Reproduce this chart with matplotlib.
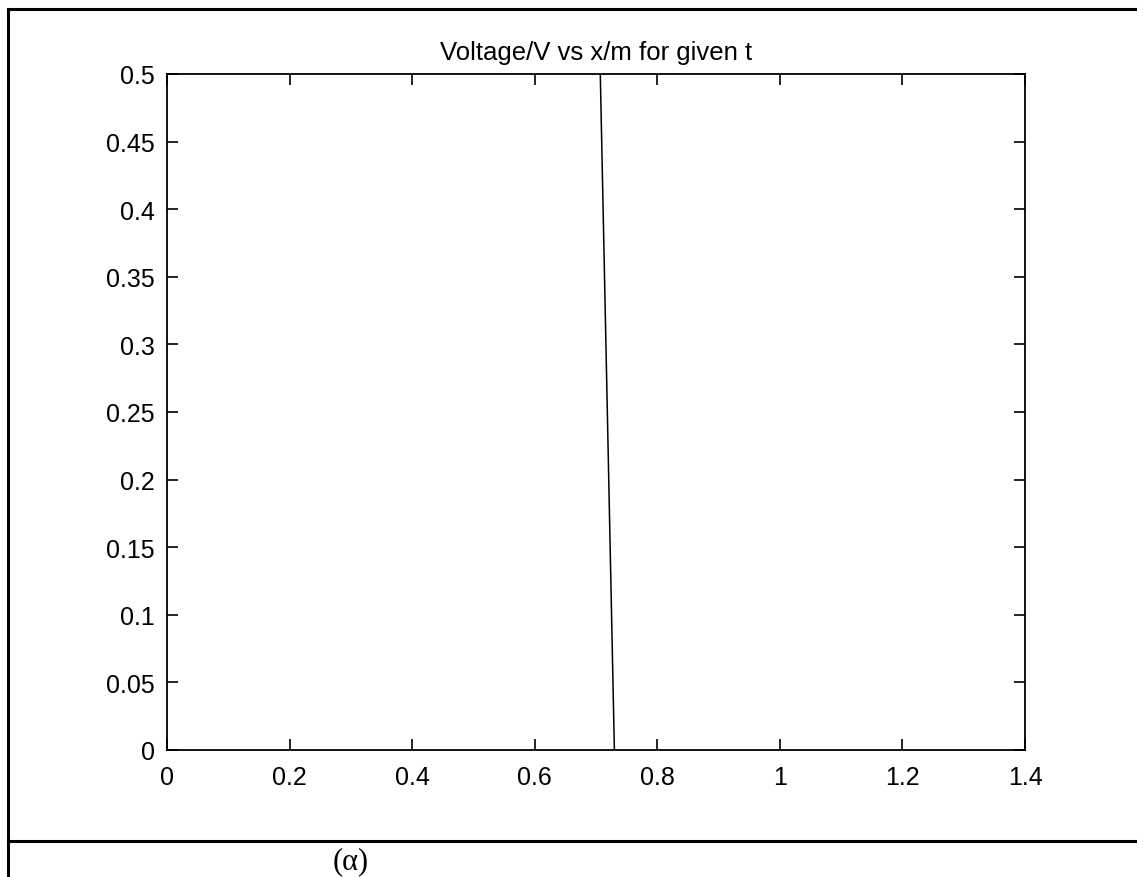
import matplotlib
matplotlib.use("Agg")
import matplotlib.pyplot as plt
from matplotlib.lines import Line2D

# voltage profile
x_pos = [0.707, 0.730]
voltage = [0.5, 0.0]

x_ticks = [0, 0.2, 0.4, 0.6, 0.8, 1, 1.2, 1.4]
x_labels = ["0", "0.2", "0.4", "0.6", "0.8", "1", "1.2", "1.4"]
y_ticks = [0, 0.05, 0.1, 0.15, 0.2, 0.25, 0.3, 0.35, 0.4, 0.45, 0.5]
y_labels = ["0", "0.05", "0.1", "0.15", "0.2", "0.25", "0.3", "0.35", "0.4", "0.45", "0.5"]

W, H = 1137, 878
fig = plt.figure(figsize=(W / 100, H / 100), dpi=100)
plt.rcParams["font.family"] = ["Liberation Sans", "DejaVu Sans"]

# axes box in pixel coords: left 167, right 1025, top 75, bottom 751
ax = fig.add_axes([167 / W, 1 - 751 / H, (1025 - 167) / W, (751 - 75) / H])
ax.plot(x_pos, voltage, color="black", linewidth=1.1)
ax.set_xlim(0, 1.4)
ax.set_ylim(0, 0.5)
ax.set_xticks(x_ticks)
ax.set_xticklabels(x_labels)
ax.set_yticks(y_ticks)
ax.set_yticklabels(y_labels)
ax.tick_params(direction="in", length=8, width=1.2, top=True, right=True,
               labelsize=18, colors="black")
ax.tick_params(axis="x", pad=11)
ax.tick_params(axis="y", pad=9)
for sp in ax.spines.values():
    sp.set_linewidth(1.3)
ax.set_title("Voltage/V vs x/m for given t", fontsize=18.5, pad=11)

# surrounding table frame
def px_line(xs, ys, lw=2.2):
    fig.add_artist(Line2D([x / W for x in xs], [1 - y / H for y in ys],
                          color="black", linewidth=lw, transform=fig.transFigure))

px_line([8, W], [10, 10])
px_line([8, 8], [10, H])
px_line([8, W], [842, 842])

fig.text(351 / W, 1 - 862 / H, "(α)", fontsize=22, family="Liberation Serif",
         ha="center", va="center")

fig.savefig("out.png", dpi=100, facecolor="white")
